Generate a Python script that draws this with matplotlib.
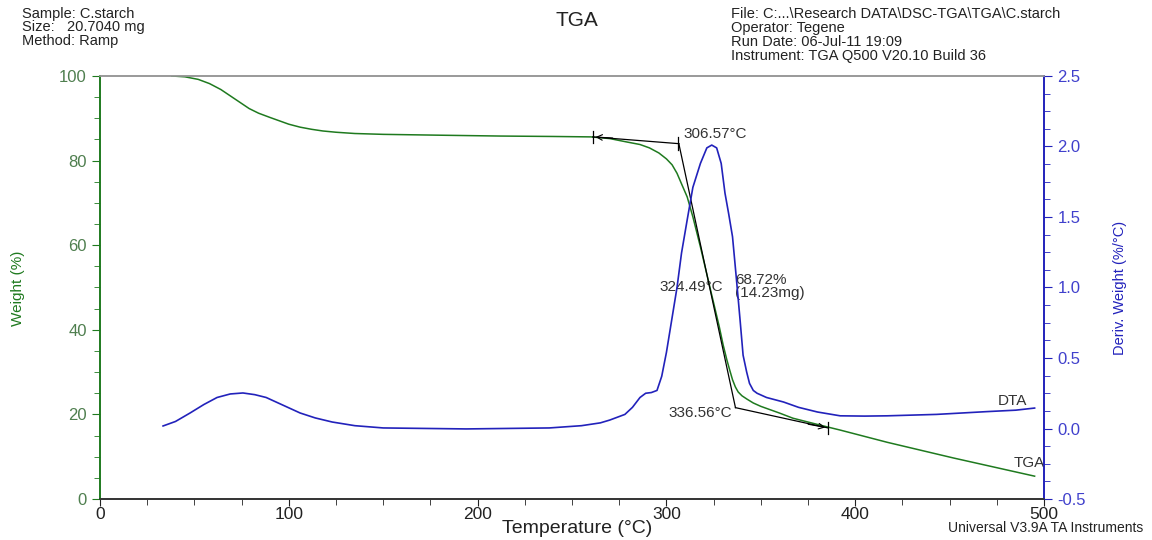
import matplotlib
matplotlib.use("Agg")
import matplotlib.pyplot as plt
from matplotlib.ticker import MultipleLocator

plt.rcParams['font.family'] = ['Liberation Sans', 'DejaVu Sans']

# TGA weight curve (Temperature °C, Weight %)
tga_temp = [38, 45, 52, 58, 64, 69, 74, 79, 84, 90, 95, 100, 106, 112, 118, 125, 135, 150,
            180, 212, 240, 260, 270, 279, 286, 291, 296, 300, 303, 305.6, 308, 311, 314,
            318, 323, 328, 330, 332, 333.5, 335, 336.5, 338, 340, 342.7, 346, 350, 355,
            360, 367, 377.6, 385.6, 392, 417, 452, 495]
tga_weight = [100, 99.8, 99.2, 98.2, 96.8, 95.3, 93.8, 92.3, 91.2, 90.2, 89.4, 88.6, 87.9,
              87.4, 87.0, 86.7, 86.4, 86.2, 86.0, 85.8, 85.7, 85.6, 85.2, 84.4, 83.8, 83.0,
              81.8, 80.4, 79.0, 77.0, 74.5, 71.4, 66.7, 59.6, 50.1, 40.7, 36.5, 32.9, 30.5,
              28.2, 26.5, 25.3, 24.4, 23.6, 22.7, 21.9, 21.1, 20.3, 19.1, 17.9, 17.0, 16.3,
              13.4, 9.7, 5.4]

# Derivative weight curve (Temperature °C, %/°C)
dta_temp = [33.4, 40, 47.7, 55, 62, 69, 75.7, 82, 88, 97, 106, 114, 123, 135, 150, 194,
            238, 255, 265, 270, 275, 278, 282, 286, 289, 292, 295, 297.5, 300, 302.8,
            305.6, 308, 311, 314, 318, 321.4, 324, 326.6, 329, 331, 333, 335, 337, 339,
            340.6, 342.5, 344, 346, 348, 353, 362, 370, 380, 392, 405, 417, 443, 470, 485,
            495]
dta_deriv = [0.018, 0.05, 0.11, 0.17, 0.22, 0.245, 0.252, 0.24, 0.22, 0.165, 0.11, 0.075,
             0.046, 0.02, 0.004, -0.003, 0.004, 0.02, 0.04, 0.06, 0.085, 0.1, 0.15, 0.22,
             0.25, 0.255, 0.27, 0.37, 0.54, 0.77, 1.0, 1.245, 1.48, 1.71, 1.88, 1.99, 2.01,
             1.99, 1.88, 1.67, 1.52, 1.36, 1.07, 0.77, 0.52, 0.40, 0.32, 0.27, 0.25, 0.22,
             0.188, 0.15, 0.117, 0.09, 0.088, 0.09, 0.10, 0.12, 0.13, 0.145]

# Onset analysis construction lines (Temperature, Weight)
tan_left_T, tan_left_W = 261, 85.6
onset_T, onset_W = 306.57, 84.0
end_T, end_W = 336.56, 21.6
tan_right_T, tan_right_W = 385.6, 16.8

header_left = ["Sample: C.starch", "Size:   20.7040 mg", "Method: Ramp"]
header_right = ["File: C:...\\Research DATA\\DSC-TGA\\TGA\\C.starch", "Operator: Tegene",
                "Run Date: 06-Jul-11 19:09", "Instrument: TGA Q500 V20.10 Build 36"]

green = "#1f7a1f"
blue = "#2222bb"
tick_green = "#4f7f4f"
tick_blue = "#4040cc"
txt = "#333333"

fig = plt.figure(figsize=(11.52, 5.4), dpi=100)
ax = fig.add_axes([0.0868, 0.0759, 0.9063 - 0.0868, 0.7834])
ax2 = ax.twinx()

ax.plot(tga_temp, tga_weight, color=green, lw=1.1, zorder=3)
ax2.plot(dta_temp, dta_deriv, color=blue, lw=1.2, zorder=3)

# construction lines
k = dict(color="black", lw=0.9, zorder=4)
ax.plot([onset_T, tan_left_T], [onset_W, tan_left_W], **k)
ax.plot([onset_T, end_T], [onset_W, end_W], **k)
ax.plot([end_T, tan_right_T], [end_W, tan_right_W], **k)
for tx, wy in [(tan_left_T, tan_left_W), (tan_right_T, tan_right_W), (onset_T - 0.7, onset_W)]:
    ax.plot([tx, tx], [wy - 1.5, wy + 1.5], **k)
ax.annotate("", xy=(tan_left_T, tan_left_W), xytext=(tan_left_T + 12, tan_left_W - 0.3),
            arrowprops=dict(arrowstyle="->", color="black", lw=0.8))
ax.annotate("", xy=(tan_right_T, tan_right_W), xytext=(tan_right_T - 12, tan_right_W + 1.0),
            arrowprops=dict(arrowstyle="->", color="black", lw=0.8))

fs = 11
ax.text(308.8, 86.3, "306.57°C", fontsize=fs, color=txt, ha="left", va="center")
ax.text(330.0, 50.0, "324.49°C", fontsize=fs, color=txt, ha="right", va="center")
ax.text(336.6, 51.7, "68.72%", fontsize=fs, color=txt, ha="left", va="center")
ax.text(336.4, 48.8, "(14.23mg)", fontsize=fs, color=txt, ha="left", va="center")
ax.text(334.7, 20.4, "336.56°C", fontsize=fs, color=txt, ha="right", va="center")
ax.text(483.3, 23.2, "DTA", fontsize=fs, color=txt, ha="center", va="center")
ax.text(492, 8.6, "TGA", fontsize=fs, color=txt, ha="center", va="center")

ax.set_xlim(0, 500)
ax.set_ylim(0, 100)
ax2.set_ylim(-0.5, 2.5)

ax.xaxis.set_major_locator(MultipleLocator(100))
ax.xaxis.set_minor_locator(MultipleLocator(25))
ax.yaxis.set_major_locator(MultipleLocator(20))
ax.yaxis.set_minor_locator(MultipleLocator(5))
ax2.yaxis.set_minor_locator(MultipleLocator(0.125))
ax2.set_yticks([-0.5, 0.0, 0.5, 1.0, 1.5, 2.0, 2.5])
ax2.set_yticklabels(["-0.5", "0.0", "0.5", "1.0", "1.5", "2.0", "2.5"])

ax.tick_params(axis="x", which="major", length=5, direction="out", labelsize=12.5,
               colors="#222222", pad=1)
ax.tick_params(axis="x", which="minor", length=4, direction="out", colors="#222222")
ax.tick_params(axis="y", which="major", length=6, direction="out", labelsize=12,
               colors=green, labelcolor=tick_green)
ax.tick_params(axis="y", which="minor", length=4, direction="out", colors=green)
ax2.tick_params(axis="y", which="major", length=6, direction="out", labelsize=12,
                colors=blue, labelcolor=tick_blue)
ax2.tick_params(axis="y", which="minor", length=4, direction="out", colors=blue)

for a in (ax, ax2):
    a.spines["left"].set_color(green)
    a.spines["right"].set_color(blue)
    a.spines["top"].set_color("#999999")
    a.spines["bottom"].set_color("#333333")
    for s in a.spines.values():
        s.set_linewidth(1.2)

ax.set_xlabel("Temperature (°C)", fontsize=14, color="#222222")
ax.xaxis.set_label_coords(0.505, -0.0686)
ax.xaxis.label.set_va("center")
ax.set_ylabel("Weight (%)", fontsize=11, color=green)
ax.yaxis.set_label_coords(-0.087, 0.499)
ax.yaxis.label.set_va("center")
ax2.set_ylabel("Deriv. Weight (%/°C)", fontsize=10.5, color=blue)
ax2.yaxis.set_label_coords(1.0805, 0.499)
ax2.yaxis.label.set_va("center")

fig.text(577 / 1152, 1 - 20 / 540, "TGA", fontsize=15, ha="center", va="center", color="#222222")
for i, s in enumerate(header_left):
    fig.text(22 / 1152, 1 - (14 + 13.5 * i) / 540, s, fontsize=10.5, ha="left", va="center",
             color="#222222")
for i, s in enumerate(header_right):
    fig.text(731 / 1152, 1 - (14 + 14 * i) / 540, s, fontsize=10.5, ha="left", va="center",
             color="#222222")
fig.text(1143 / 1152, 1 - 528 / 540, "Universal V3.9A TA Instruments", fontsize=10,
         ha="right", va="center", color="#222222")

fig.savefig("out.png", dpi=100)
